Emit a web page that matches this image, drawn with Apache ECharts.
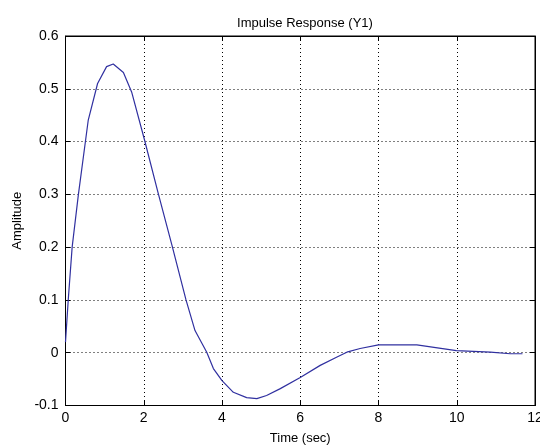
<!DOCTYPE html>
<html>
<head>
<meta charset="utf-8">
<script src="https://cdn.jsdelivr.net/npm/echarts@6/dist/echarts.min.js"></script>
<style>
html,body{margin:0;padding:0;background:#fff;}
#c{width:540px;height:447px;}
</style>
</head>
<body>
<div id="c"></div>
<script>
const titleText = 'Impulse Response (Y1)';
const xLabel = 'Time (sec)';
const yLabel = 'Amplitude';
const xTicks = [0, 2, 4, 6, 8, 10, 12];
const yTicks = [-0.1, 0, 0.1, 0.2, 0.3, 0.4, 0.5, 0.6];
const times = [0, 0.07, 0.17, 0.33, 0.58, 0.82, 1.05, 1.22, 1.48, 1.69, 2.02, 2.37, 2.72, 3.08, 3.31, 3.61, 3.78, 4.0, 4.29, 4.63, 4.89, 5.14, 5.49, 6.0, 6.51, 6.94, 7.19, 7.53, 8.0, 8.98, 9.99, 10.86, 11.37, 11.68];
const amplitude = [0.02, 0.1, 0.2, 0.3, 0.44, 0.51, 0.542, 0.547, 0.531, 0.494, 0.403, 0.302, 0.204, 0.1, 0.042, 0.001, -0.03, -0.053, -0.075, -0.085, -0.087, -0.081, -0.068, -0.047, -0.024, -0.008, 0.001, 0.008, 0.015, 0.015, 0.004, 0.001, -0.002, -0.002];

const fmt = v => String(Math.round(v * 10) / 10);
const font = 'Liberation Sans, Arial, sans-serif';
const chart = echarts.init(document.getElementById('c'), null, {renderer: 'canvas'});
const gridDef = {left: 65.5, right: 5, top: 36, bottom: 41.5};
const tickStyle = {show: true, inside: true, length: 5, lineStyle: {color: '#000'}};
chart.setOption({
  backgroundColor: '#fff',
  animation: false,
  title: {
    text: titleText, left: 300, top: 12, textAlign: 'center',
    textStyle: {fontFamily: font, fontSize: 13, fontWeight: 'normal', color: '#000'}
  },
  grid: Object.assign({show: true, borderColor: '#000', borderWidth: 1, backgroundColor: '#fff', containLabel: false, outerBoundsMode: 'none'}, gridDef),
  xAxis: [{
    type: 'value', min: xTicks[0], max: xTicks[xTicks.length - 1], interval: 2,
    name: xLabel, nameLocation: 'middle', nameGap: 26,
    nameTextStyle: {fontFamily: font, fontSize: 13, color: '#000'},
    axisLine: {show: true, onZero: false, lineStyle: {color: '#000'}},
    axisTick: tickStyle,
    axisLabel: {fontFamily: font, fontSize: 14, color: '#000', margin: 6, formatter: v => String(v), hideOverlap: false},
    splitLine: {show: true, lineStyle: {color: '#000', type: [1, 3], width: 1}}
  }, {
    type: 'value', position: 'top', min: 0, max: 12, interval: 2,
    axisLine: {show: true, onZero: false, lineStyle: {color: '#000'}},
    axisTick: tickStyle, axisLabel: {show: false}, splitLine: {show: false}
  }],
  yAxis: [{
    type: 'value', min: yTicks[0], max: yTicks[yTicks.length - 1], interval: 0.1,
    name: yLabel, nameLocation: 'middle', nameGap: 42, nameRotate: 90,
    nameTextStyle: {fontFamily: font, fontSize: 13, color: '#000'},
    axisLine: {show: true, onZero: false, lineStyle: {color: '#000'}},
    axisTick: tickStyle,
    axisLabel: {fontFamily: font, fontSize: 14, color: '#000', margin: 7, formatter: fmt},
    splitLine: {show: true, lineStyle: {color: '#000', type: [1, 3], width: 1}}
  }, {
    type: 'value', position: 'right', min: -0.1, max: 0.6, interval: 0.1,
    axisLine: {show: true, onZero: false, lineStyle: {color: '#000'}},
    axisTick: tickStyle, axisLabel: {show: false}, splitLine: {show: false}
  }],
  series: [{
    type: 'line',
    data: times.map((t, i) => [t, amplitude[i]]),
    showSymbol: false,
    smooth: false,
    lineStyle: {color: '#3030a0', width: 1.2},
    xAxisIndex: 0, yAxisIndex: 0
  }]
});
</script>
</body>
</html>
